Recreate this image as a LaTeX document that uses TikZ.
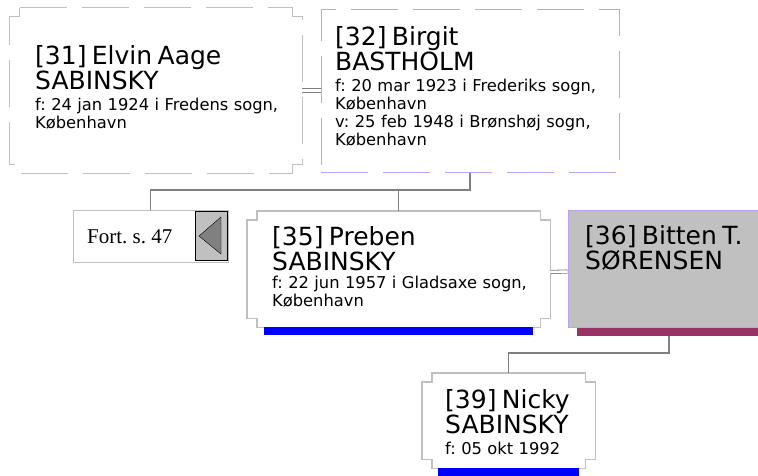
\documentclass[tikz,border=0pt]{standalone}
\usepackage{fontspec}
\setmainfont{Liberation Serif}
\setsansfont{DejaVu Sans}
\usetikzlibrary{positioning}
\frenchspacing
\definecolor{framegrey}{RGB}{192,192,192}
\definecolor{linkgrey}{RGB}{128,128,128}
\definecolor{lavender}{RGB}{190,160,245}
\definecolor{barmale}{RGB}{0,0,255}
\definecolor{barfemale}{RGB}{153,51,102}
\newcommand{\namefont}{\fontsize{25}{25}\selectfont}
\newcommand{\datefont}{\fontsize{16.3}{18.3}\selectfont}
% frame with stepped corners round an empty node: #1 node, #2 style
\newcommand{\notchframe}[2]{%
  \draw[#2] ([xshift=10pt]#1.north west) -- ([xshift=-10pt]#1.north east) -- ++(0,9) -- ++(10,0)
    -- ([yshift=9pt]#1.south east) -- ++(-10,0) -- ++(0,9) -- ([xshift=10pt]#1.south west)
    -- ++(0,-9) -- ++(-10,0) -- ([yshift=-9pt]#1.north west) -- ++(10,0) -- cycle;}
\tikzset{
  frame/.style={inner sep=0pt},
  person/.style={font={\sffamily\datefont\lineskiplimit=-50pt}, align=left, inner sep=0pt,
    anchor=base west, text width=280pt},
  link/.style={draw=linkgrey, line width=1.2pt},
  marriage/.style={draw=linkgrey, double=white, double distance=2.5pt, line width=0.8pt},
  sexbar/.style={inner sep=0pt, minimum height=8pt, anchor=north},
}
\begin{document}
\begin{tikzpicture}[x=1pt, y=-1pt]
    \useasboundingbox (0,0) rectangle (758,475);
    \clip (0,0) rectangle (758,475);
    % parents
    \node[frame, minimum width=292pt, minimum height=165pt] (b31) at (156,90.5) {};
    \notchframe{b31}{draw=framegrey, line width=1pt, dash pattern=on 47pt off 15pt}
    \node[person] (n31) at (35,64) {{\namefont [31] Elvin Aage}\\[6.7pt] {\namefont SABINSKY}\\[2.7pt]
        f: 24 jan 1924 i Fredens sogn,\\ København};
    \node[frame, draw=lavender, line width=1pt, dash pattern=on 47pt off 15pt,
        minimum width=298pt, minimum height=163pt] (b32) at (470,90.5) {};
    \node[person] (n32) at (335,45) {{\namefont [32] Birgit}\\[6.7pt] {\namefont BASTHOLM}\\[2.7pt]
        f: 20 mar 1923 i Frederiks sogn,\\ København\\ v: 25 feb 1948 i Brønshøj sogn,\\ København};
    \draw[marriage] (b31.east) -- (b32.west);
    % children
    \node[frame, draw=framegrey, line width=1pt, minimum width=155pt, minimum height=52pt] (fort) at (150.5,236) {};
    \node[anchor=base west, inner sep=0pt, font=\fontsize{21}{21}\selectfont] (fortlbl) at (87,243) {Fort. s. 47};
    \node[frame, draw=black, fill=framegrey, minimum width=32pt, minimum height=49pt] (btn) at (211,235.5) {};
    \filldraw[fill=linkgrey, draw=black] (199,236) -- (221,217) -- (221,254) -- cycle;
    \node[frame, minimum width=303pt, minimum height=116pt] (b35) at (398.5,269) {};
    \notchframe{b35}{draw=framegrey, line width=1.4pt}
    \node[person] (n35) at (272,245) {{\namefont [35] Preben}\\[6.7pt] {\namefont SABINSKY}\\[0pt]
        f: 22 jun 1957 i Gladsaxe sogn,\\ København};
    \node[sexbar, fill=barmale, minimum width=269pt] (bar35) at (b35.south) {};
    \node[frame, draw=lavender, fill=framegrey, line width=1pt, minimum width=202pt, minimum height=117pt] (b36) at (669,268.5) {};
    \node[person] (n36) at (585,244) {{\namefont [36] Bitten T.}\\[6.7pt] {\namefont SØRENSEN}};
    \node[sexbar, fill=barfemale, minimum width=184pt] (bar36) at (b36.south) {};
    \draw[marriage] ([yshift=-3pt]b35.east) -- ([yshift=-3pt]b36.west);
    \coordinate (fam1) at (470,190);
    \draw[link] (b32.south) -- (fam1) -| (fort.north);
    \draw[link] (fam1 -| b35.north) -- (b35.north);
    % grandchild
    \node[frame, minimum width=173pt, minimum height=95pt] (b39) at (508.5,420.5) {};
    \notchframe{b39}{draw=framegrey, line width=1.4pt}
    \node[person] (n39) at (445,408) {{\namefont [39] Nicky}\\[6.7pt] {\namefont SABINSKY}\\[2.7pt]
        f: 05 okt 1992};
    \node[sexbar, fill=barmale, minimum width=141pt] (bar39) at (b39.south) {};
    \coordinate (fam2) at (669,353);
    \draw[link] (bar36.south) -- (fam2) -| (b39.north);
\end{tikzpicture}
\end{document}
